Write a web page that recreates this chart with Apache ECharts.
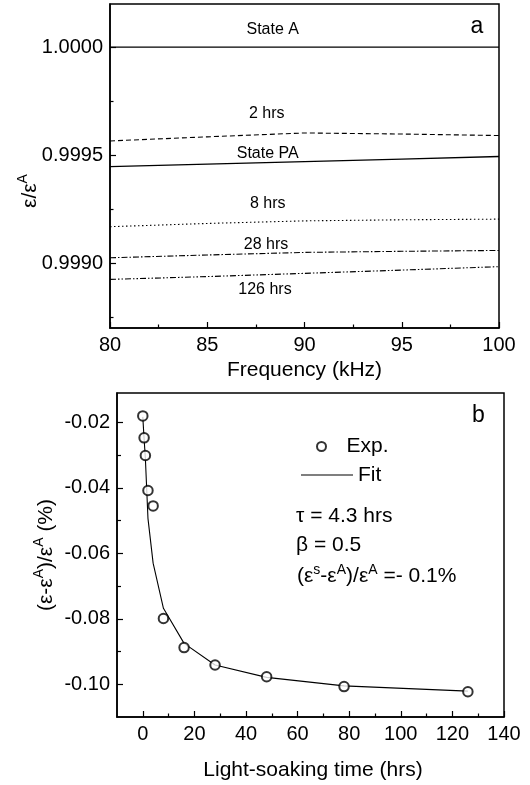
<!DOCTYPE html>
<html>
<head>
<meta charset="utf-8">
<script src="https://cdn.jsdelivr.net/npm/echarts@6/dist/echarts.min.js"></script>
<style>
html,body{margin:0;padding:0;background:#fff;}
#c{width:530px;height:785px;}
</style>
</head>
<body>
<div id="c"></div>
<script>
// ---------- Panel a data ----------
const freq = [80, 85, 90, 95, 100];
const stateA  = [1.000000, 1.000000, 1.000000, 1.000000, 1.000000];
const hrs2    = [0.999566, 0.999585, 0.999603, 0.999598, 0.999591];
const statePA = [0.999447, 0.999459, 0.999470, 0.999482, 0.999494];
const hrs8    = [0.999169, 0.999184, 0.999196, 0.999201, 0.999204];
const hrs28   = [0.999025, 0.999038, 0.999050, 0.999055, 0.999059];
const hrs126  = [0.998925, 0.998938, 0.998953, 0.998968, 0.998984];
const aYLabels = [0.9990, 0.9995, 1.0000];
const aYMinor  = [0.99875, 0.99925, 0.99975];
const aXLabels = [80, 85, 90, 95, 100];
const aXMinor  = [82.5, 87.5, 92.5, 97.5];

// ---------- Panel b data ----------
const soakTime  = [0, 0.5, 1, 2, 4, 8, 16, 28, 48, 78, 126];
const expValues = [-0.0180, -0.0247, -0.0301, -0.0408, -0.0455, -0.0799, -0.0888, -0.0941, -0.0977, -0.1007, -0.1023];
const fitTime   = [0, 0.5, 1, 2, 4, 8, 16, 28, 48, 78, 126];
const fitValues = [-0.0183, -0.0250, -0.0310, -0.0493, -0.0630, -0.0768, -0.0875, -0.0941, -0.0979, -0.1005, -0.1021];
const bYLabels = [-0.10, -0.08, -0.06, -0.04, -0.02];
const bYMinor  = [-0.09, -0.07, -0.05, -0.03];
const bXLabels = [0, 20, 40, 60, 80, 100, 120, 140];
const bXMinor  = [10, 30, 50, 70, 90, 110, 130];

const FF = '"Liberation Sans", Arial, Helvetica, sans-serif';
const pair = (xs, ys) => xs.map((x, i) => [x, ys[i]]);

function majorAxis(base, labels, fmt, tickLen) {
  return Object.assign({
    type: 'value',
    axisLine: {show: true, onZero: false, lineStyle: {color: '#000', width: 1.5}},
    axisTick: {show: true, inside: true, length: tickLen, customValues: labels, lineStyle: {color: '#000', width: 1.2}},
    axisLabel: {show: true, customValues: labels, formatter: fmt, color: '#000', fontSize: 20, fontFamily: FF, margin: 7},
    splitLine: {show: false}
  }, base);
}
function minorAxis(base, vals, tickLen) {
  return Object.assign({
    type: 'value', offset: 0,
    axisLine: {show: false, onZero: false},
    axisTick: {show: true, inside: true, length: tickLen, customValues: vals, lineStyle: {color: '#000', width: 1.2}},
    axisLabel: {show: false},
    splitLine: {show: false}
  }, base);
}

const lineS = (name, ys, type, w) => ({
  name, type: 'line', xAxisIndex: 0, yAxisIndex: 0, data: pair(freq, ys),
  showSymbol: false, symbol: 'none', smooth: false, silent: true,
  lineStyle: {color: '#000', width: w, type: type}
});

const txt = (x, y, text, size, align) => ({
  type: 'text', x, y, silent: true,
  style: {text, fill: '#000', fontSize: size, fontFamily: FF,
    align: align || 'center', textAlign: align || 'center',
    verticalAlign: 'middle', textVerticalAlign: 'middle'}
});
const rich = (x, y, text, rot, align) => ({
  type: 'text', x, y, rotation: rot, silent: true,
  style: {text, fill: '#000', fontFamily: FF,
    align: align || 'center', textAlign: align || 'center',
    verticalAlign: 'middle', textVerticalAlign: 'middle',
    rich: {
      m: {fontSize: 21, fontFamily: FF, fill: '#000', color: '#000', lineHeight: 28},
      s: {fontSize: 14, fontFamily: FF, fill: '#000', color: '#000', lineHeight: 14, verticalAlign: 'top'}
    }}
});

const chart = echarts.init(document.getElementById('c'), null, {renderer: 'canvas'});
chart.setOption({
  backgroundColor: '#fff',
  animation: false,
  grid: [
    {left: 110, top: 4, width: 389, height: 324, show: true, borderColor: '#000', borderWidth: 1.5, backgroundColor: 'transparent'},
    {left: 117, top: 393, width: 387, height: 324, show: true, borderColor: '#000', borderWidth: 1.5, backgroundColor: 'transparent'}
  ],
  xAxis: [
    majorAxis({gridIndex: 0, position: 'bottom', min: 80, max: 100}, aXLabels, v => String(v), 6),
    minorAxis({gridIndex: 0, position: 'bottom', min: 80, max: 100}, aXMinor, 3.5),
    majorAxis({gridIndex: 1, position: 'bottom', min: -10, max: 140}, bXLabels, v => String(v), 6),
    minorAxis({gridIndex: 1, position: 'bottom', min: -10, max: 140}, bXMinor, 3.5)
  ],
  yAxis: [
    majorAxis({gridIndex: 0, position: 'left', min: 0.9987, max: 1.0002}, aYLabels, v => v.toFixed(4), 6),
    minorAxis({gridIndex: 0, position: 'left', min: 0.9987, max: 1.0002}, aYMinor, 3.5),
    majorAxis({gridIndex: 1, position: 'left', min: -0.11, max: -0.011}, bYLabels, v => v.toFixed(2), 6),
    minorAxis({gridIndex: 1, position: 'left', min: -0.11, max: -0.011}, bYMinor, 4)
  ],
  legend: [
    {data: ['Exp.'], left: 311, top: 431, itemWidth: 40, itemHeight: 9, itemGap: 5, selectedMode: false,
     textStyle: {fontSize: 21, fontFamily: FF, color: '#000'}},
    {data: [{name: 'Fit', icon: 'rect', itemStyle: {color: '#000', borderWidth: 0}}], left: 296, top: 459.5,
     itemWidth: 52, itemHeight: 1.2, itemGap: 5, selectedMode: false,
     textStyle: {fontSize: 21, fontFamily: FF, color: '#000'}}
  ],
  series: [
    lineS('State A', stateA, 'solid', 1.3),
    lineS('2 hrs', hrs2, [5, 3], 1.1),
    lineS('State PA', statePA, 'solid', 1.3),
    lineS('8 hrs', hrs8, [1.5, 2.5], 1.1),
    lineS('28 hrs', hrs28, [6, 2, 1.5, 2], 1.1),
    lineS('126 hrs', hrs126, [6, 2, 1.5, 2, 1.5, 2], 1.1),
    {
      name: 'Fit', type: 'line', xAxisIndex: 2, yAxisIndex: 2, data: pair(fitTime, fitValues),
      showSymbol: false, symbol: 'none', smooth: false, silent: true, z: 2,
      lineStyle: {color: '#000', width: 1.1}, itemStyle: {color: '#000'}
    },
    {
      name: 'Exp.', type: 'scatter', xAxisIndex: 2, yAxisIndex: 2, data: pair(soakTime, expValues),
      symbol: 'emptyCircle', symbolSize: 9.5, silent: true, z: 3,
      itemStyle: {color: '#000', borderColor: '#000', borderWidth: 1.5}
    }
  ],
  graphic: [
    txt(272.7, 29.3, 'State A', 16),
    txt(266.7, 113.3, '2 hrs', 16),
    txt(267.7, 153.7, 'State PA', 16),
    txt(267.7, 203.3, '8 hrs', 16),
    txt(266, 244.3, '28 hrs', 16),
    txt(265, 289.3, '126 hrs', 16),
    txt(477, 27, 'a', 23),
    txt(304.5, 370, 'Frequency (kHz)', 21),
    rich(30, 191, '{m|ε/ε}{s|A}', Math.PI / 2),
    txt(478.3, 416, 'b', 23),
    txt(296, 516.7, 'τ = 4.3 hrs', 21, 'left'),
    txt(296, 545, 'β = 0.5', 21, 'left'),
    rich(297, 576.7, '{m|(ε}{s|s}{m|-ε}{s|A}{m|)/ε}{s|A}{m| =- 0.1%}', 0, 'left'),
    rich(46, 555, '{m|(ε-ε}{s|A}{m|)/ε}{s|A}{m| (%)}', Math.PI / 2),
    txt(313, 770, 'Light-soaking time (hrs)', 21)
  ]
});
</script>
</body>
</html>
